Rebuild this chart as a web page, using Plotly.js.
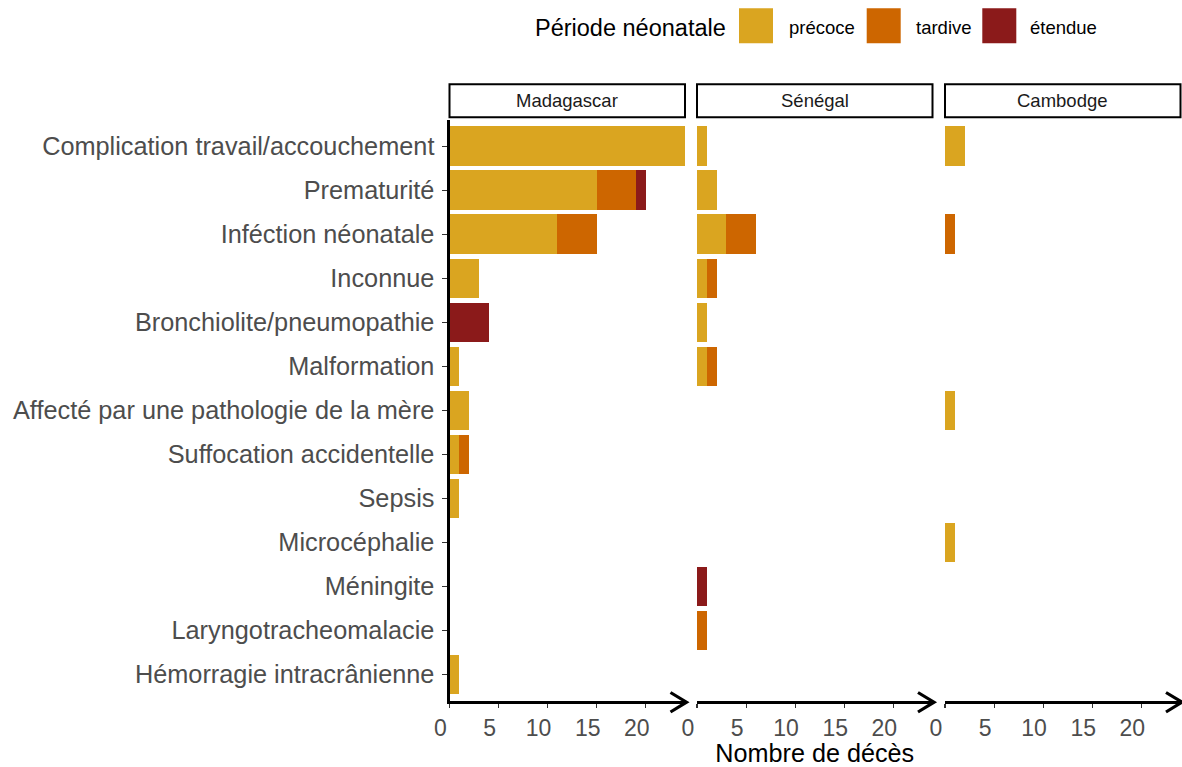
<!DOCTYPE html>
<html>
<head>
<meta charset="utf-8">
<script src="https://cdn.plot.ly/plotly-3.0.1.min.js"></script>
<style>html,body{margin:0;padding:0;background:#fff;}#chart{width:1182px;height:767px;}</style>
</head>
<body>
<div id="chart"></div>
<script>
const categories = [
  "Complication travail/accouchement",
  "Prematurité",
  "Inféction néonatale",
  "Inconnue",
  "Bronchiolite/pneumopathie",
  "Malformation",
  "Affecté par une pathologie de la mère",
  "Suffocation accidentelle",
  "Sepsis",
  "Microcéphalie",
  "Méningite",
  "Laryngotracheomalacie",
  "Hémorragie intracrânienne"
];
const countries = ["Madagascar", "Sénégal", "Cambodge"];
const periods = ["précoce", "tardive", "étendue"];
const legendTitle = "Période néonatale";
const xTitle = "Nombre de décès";
const xTickVals = [0, 5, 10, 15, 20];

// Madagascar
const madPrecoce = [24, 15, 11, 3, 0, 1, 2, 1, 1, 0, 0, 0, 1];
const madTardive = [0, 4, 4, 0, 0, 0, 0, 1, 0, 0, 0, 0, 0];
const madEtendue = [0, 1, 0, 0, 4, 0, 0, 0, 0, 0, 0, 0, 0];
// Sénégal
const senPrecoce = [1, 2, 3, 1, 1, 1, 0, 0, 0, 0, 0, 0, 0];
const senTardive = [0, 0, 3, 1, 0, 1, 0, 0, 0, 0, 0, 1, 0];
const senEtendue = [0, 0, 0, 0, 0, 0, 0, 0, 0, 0, 1, 0, 0];
// Cambodge
const camPrecoce = [2, 0, 0, 0, 0, 0, 1, 0, 0, 1, 0, 0, 0];
const camTardive = [0, 0, 1, 0, 0, 0, 0, 0, 0, 0, 0, 0, 0];
const camEtendue = [0, 0, 0, 0, 0, 0, 0, 0, 0, 0, 0, 0, 0];

const seriesByCountry = [
  [madPrecoce, madTardive, madEtendue],
  [senPrecoce, senTardive, senEtendue],
  [camPrecoce, camTardive, camEtendue]
];

const colors = ["#DAA520", "#CD6600", "#8B1A1A"];
const W = 1182, H = 767;
const FONT = "'Liberation Sans', Arial, sans-serif";
const px = x => x / W;
const py = y => 1 - y / H;

const panels = [[449.5, 685], [697, 932.5], [945, 1180.5]];
const axNames = ["x", "x2", "x3"];

const traces = [];
seriesByCountry.forEach((series, ci) => {
  series.forEach((vals, pi) => {
    traces.push({
      type: "bar",
      orientation: "h",
      name: periods[pi],
      x: vals,
      y: categories,
      xaxis: axNames[ci],
      yaxis: "y",
      width: 0.9,
      marker: {color: colors[pi], line: {width: 0}},
      showlegend: false,
      hoverinfo: "x+y+name"
    });
  });
});

const xaxisBase = {
  anchor: "y",
  range: [0, 24],
  tickvals: xTickVals,
  showline: true,
  linewidth: 3,
  linecolor: "#000",
  ticks: "outside",
  ticklen: 4,
  tickwidth: 1.1,
  tickcolor: "#333",
  ticklabelshift: -9,
  tickfont: {family: FONT, size: 23, color: "#4D4D4D"},
  showgrid: false,
  zeroline: false,
  fixedrange: true
};

const layout = {
  width: W, height: H,
  margin: {l: 0, r: 0, t: 0, b: 0},
  paper_bgcolor: "#fff",
  plot_bgcolor: "#fff",
  barmode: "stack",
  bargap: 0.1,
  showlegend: false,
  font: {family: FONT},
  yaxis: {
    anchor: "x",
    type: "category",
    categoryarray: categories,
    categoryorder: "array",
    range: [12.6, -0.6],
    domain: [py(701), py(119.8)],
    showline: true,
    linewidth: 3,
    linecolor: "#000",
    ticks: "outside",
    ticklen: 5,
    tickwidth: 1.1,
    tickcolor: "#333",
    ticklabelstandoff: 2,
    tickfont: {family: FONT, size: 25.3, color: "#4D4D4D"},
    showgrid: false,
    zeroline: false,
    fixedrange: true
  },
  xaxis: Object.assign({}, xaxisBase, {domain: [px(panels[0][0]), px(panels[0][1])]}),
  xaxis2: Object.assign({}, xaxisBase, {
    domain: [px(panels[1][0]), px(panels[1][1])],
    title: {text: xTitle, font: {family: FONT, size: 25.2, color: "#000"}, standoff: 8}
  }),
  xaxis3: Object.assign({}, xaxisBase, {domain: [px(panels[2][0]), px(panels[2][1])]}),
  shapes: [],
  annotations: []
};

// strips, strip labels, axis arrowheads
panels.forEach((p, i) => {
  layout.shapes.push({
    type: "rect", xref: "paper", yref: "paper", layer: "above",
    x0: px(p[0]), x1: px(p[1]), y0: py(117.2), y1: py(84.3),
    fillcolor: "#fff", line: {color: "#000", width: 2}
  });
  layout.annotations.push({
    xref: "paper", yref: "paper", x: px((p[0] + p[1]) / 2), y: py(100.7),
    xanchor: "center", yanchor: "middle", showarrow: false,
    text: countries[i], font: {family: FONT, size: 18.5, color: "#1A1A1A"}
  });
  const e = p[1] + 1.5;
  layout.shapes.push({
    type: "path", xref: "paper", yref: "paper", layer: "above",
    path: `M${px(e - 16)},${py(692.5)} L${px(e)},${py(702.2)} L${px(e - 16)},${py(712)}`,
    line: {color: "#000", width: 3.2}
  });
});

// legend
layout.annotations.push({
  xref: "paper", yref: "paper", x: px(533), y: py(27.5),
  xanchor: "left", yanchor: "middle", showarrow: false,
  text: legendTitle, font: {family: FONT, size: 23.5, color: "#000"}
});
const keyX = [739, 866.7, 982.3];
const labX = [786.7, 914, 1028.3];
periods.forEach((lab, i) => {
  layout.shapes.push({
    type: "rect", xref: "paper", yref: "paper",
    x0: px(keyX[i]), x1: px(keyX[i] + 34), y0: py(43.3), y1: py(8.3),
    fillcolor: colors[i], line: {width: 0}
  });
  layout.annotations.push({
    xref: "paper", yref: "paper", x: px(labX[i]), y: py(27.5),
    xanchor: "left", yanchor: "middle", showarrow: false,
    text: lab, font: {family: FONT, size: 18.5, color: "#000"}
  });
});

Plotly.newPlot("chart", traces, layout, {displayModeBar: false, staticPlot: true});
</script>
</body>
</html>
